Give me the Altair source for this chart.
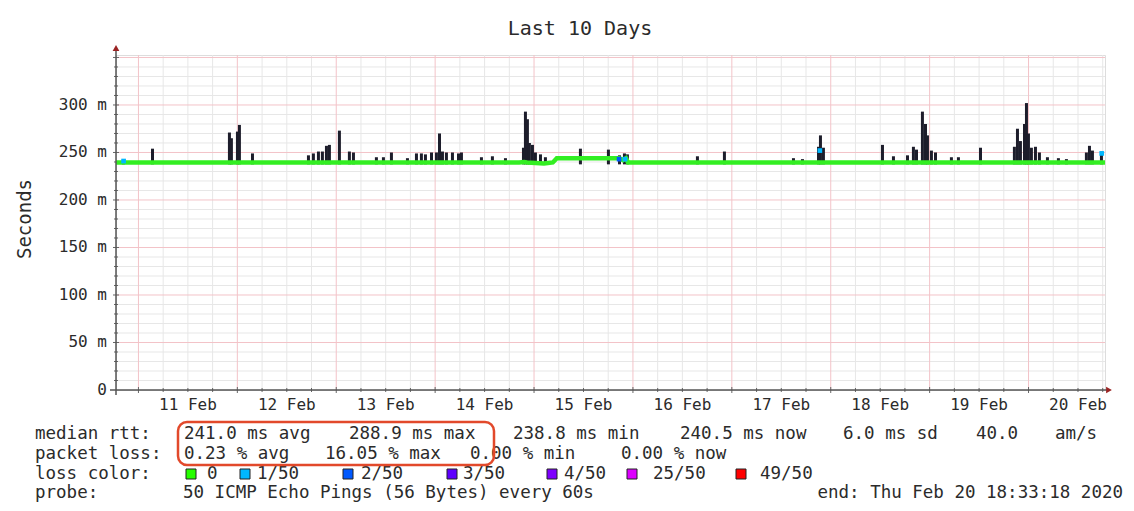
import altair as alt
import pandas as pd

# ---------------- data ----------------
# time axis in "day of February" (fractional), window = Feb 10 18:33:18 .. Feb 20 18:33:18
start_day = 10.7731
end_day = 20.7731

# median rtt line (ms)
median_day = [10.773, 14.85, 14.90, 14.93, 15.10, 15.14, 15.19, 15.23, 15.86, 15.90, 15.93, 15.95, 20.773]
median_ms = [239.5, 239.5, 240.0, 239.5, 238.5, 239.0, 239.5, 244.0, 244.0, 242.0, 244.0, 239.5, 239.5]

# smoke spikes: time and top of the ping spread (ms)
spike_day = [10.848, 11.142, 11.920, 11.940, 12.001, 12.021, 12.153, 12.719, 12.769, 12.820,
             12.860, 12.901, 12.931, 13.032, 13.133, 13.174, 13.406, 13.477, 13.558, 13.720,
             13.811, 13.861, 13.902, 13.963, 14.013, 14.044, 14.074, 14.114, 14.175, 14.236,
             14.266, 14.468, 14.579, 14.711, 14.893, 14.913, 14.933, 14.953, 14.984, 15.014,
             15.065, 15.115, 15.469, 15.752, 15.864, 15.914, 15.944, 16.652, 16.925, 17.623,
             17.714, 17.876, 17.896, 17.926, 18.523, 18.634, 18.776, 18.836, 18.867, 18.927,
             18.958, 18.978, 19.018, 19.059, 19.220, 19.291, 19.514, 19.857, 19.888, 19.918,
             19.959, 19.979, 19.999, 20.029, 20.070, 20.110, 20.191, 20.302, 20.383, 20.585,
             20.616, 20.646, 20.737]
spike_top = [243, 254, 271, 265, 272, 279, 249, 247, 249, 251,
             251, 257, 258, 273, 251, 250, 245, 245, 250, 244,
             249, 249, 248, 250, 250, 270, 251, 250, 250, 249,
             250, 245, 246, 244, 255, 293, 285, 260, 258, 250,
             248, 245, 254, 253, 247, 249, 248, 246, 251, 244,
             243, 256, 268, 255, 258, 246, 247, 256, 253, 293,
             280, 268, 252, 250, 245, 245, 255, 256, 275, 262,
             280, 302, 270, 255, 256, 250, 245, 244, 243, 250,
             257, 252, 251]

# points where the median line shows packet loss
loss_day = [10.85, 15.86, 15.92, 17.89, 20.74]
loss_ms = [241, 243, 243, 252, 249]
loss_lvl = ["1/50", "2/50", "1/50", "1/50", "1/50"]

# y axis ticks and x axis day labels (labels sit at noon of each day)
y_ticks = [0, 50, 100, 150, 200, 250, 300]
y_labels = ["0\u00a0\u00a0", "50 m", "100 m", "150 m", "200 m", "250 m", "300 m"]
x_label_day = [11.5, 12.5, 13.5, 14.5, 15.5, 16.5, 17.5, 18.5, 19.5, 20.5]
x_labels = ["11 Feb", "12 Feb", "13 Feb", "14 Feb", "15 Feb", "16 Feb", "17 Feb", "18 Feb", "19 Feb", "20 Feb"]

# legend texts
median_stats = ["241.0 ms avg", "288.9 ms max", "238.8 ms min", "240.5 ms now", "6.0 ms sd", "40.0", "am/s"]
loss_stats = ["0.23 % avg", "16.05 % max", "0.00 % min", "0.00 % now"]
loss_labels = ["0", "1/50", "2/50", "3/50", "4/50", "25/50", "49/50"]
loss_colors = ["#26ff00", "#00b8ff", "#0059ff", "#5e00ff", "#7e00ff", "#dd00ff", "#ff0000"]
probe_text = "50 ICMP Echo Pings (56 Bytes) every 60s"
end_text = "end: Thu Feb 20 18:33:18 2020"
title_text = "Last 10 Days"
y_title = "Seconds"

# ---------------- chart ----------------
MONO = "DejaVu Sans Mono"
TXT = "#2b2b2b"
W, H = 989, 335
OX, OY = 116, 55  # page position of plot origin

xs = alt.Scale(domain=[start_day, end_day], nice=False, zero=False)
ys = alt.Scale(domain=[0, 352.6], nice=False, zero=True)

minor_v = [d / 4 for d in range(43, 84) if d % 4 != 0 and start_day <= d / 4 <= end_day]
major_v = [d for d in range(11, 21)]
minor_h = [v for v in range(10, 360, 10) if v % 50 != 0]
major_h = [v for v in range(50, 360, 50)]


def vgrid(vals, color):
    return alt.Chart(pd.DataFrame({"d": vals})).mark_rule(color=color, strokeWidth=1).encode(
        x=alt.X("d:Q", scale=xs, axis=None))


def hgrid(vals, color):
    return alt.Chart(pd.DataFrame({"v": vals})).mark_rule(color=color, strokeWidth=1).encode(
        y=alt.Y("v:Q", scale=ys, axis=None))


grid = vgrid(minor_v, "#e7e7e7") + hgrid(minor_h, "#e7e7e7") + vgrid(major_v, "#f3c3c8") + hgrid(major_h, "#f3c3c8")


def xticks(vals, half):
    return alt.Chart(pd.DataFrame({"d": vals})).mark_rule(color="#666666", strokeWidth=1).encode(
        x=alt.X("d:Q", scale=xs, axis=None), y=alt.value(H - half), y2=alt.value(H + half))


def yticks(vals, half):
    return alt.Chart(pd.DataFrame({"v": vals})).mark_rule(color="#666666", strokeWidth=1).encode(
        y=alt.Y("v:Q", scale=ys, axis=None), x=alt.value(-half), x2=alt.value(half))


ticks = xticks(minor_v, 2) + xticks(major_v, 3) + yticks(minor_h, 2) + yticks(major_h, 3)

smoke_df = pd.DataFrame({"d": spike_day, "top": spike_top, "base": [237.5] * len(spike_day)})
smoke = alt.Chart(smoke_df).mark_rule(color="#1d1d2b", strokeWidth=3).encode(
    x=alt.X("d:Q", scale=xs, axis=None),
    y=alt.Y("base:Q", scale=ys, axis=None),
    y2="top:Q",
)

med_df = pd.DataFrame({"d": median_day, "ms": median_ms})
median = alt.Chart(med_df).mark_line(color="#33ee22", strokeWidth=4.5).encode(
    x=alt.X("d:Q", scale=xs, axis=None),
    y=alt.Y("ms:Q", scale=ys, axis=None),
)

loss_df = pd.DataFrame({"d": loss_day, "ms": loss_ms, "lvl": loss_lvl})
loss = alt.Chart(loss_df).mark_square(size=22, opacity=1).encode(
    x=alt.X("d:Q", scale=xs, axis=None),
    y=alt.Y("ms:Q", scale=ys, axis=None),
    color=alt.Color("lvl:N", scale=alt.Scale(domain=loss_labels, range=loss_colors), legend=None),
)

xlab = alt.Chart(pd.DataFrame({"d": x_label_day, "t": x_labels})).mark_text(
    font=MONO, fontSize=16, color=TXT, align="center", baseline="middle").encode(
    x=alt.X("d:Q", scale=xs, axis=None), y=alt.value(405 - OY), text="t:N")

ylab = alt.Chart(pd.DataFrame({"v": y_ticks, "t": y_labels})).mark_text(
    font=MONO, fontSize=16, color=TXT, align="right", baseline="middle").encode(
    y=alt.Y("v:Q", scale=ys, axis=None), x=alt.value(107 - OX), text="t:N")

one = pd.DataFrame({"k": [0]})

axis_lines = (
    alt.Chart(one).mark_rule(color="#555555", strokeWidth=1.5).encode(
        x=alt.value(0), y=alt.value(-6), y2=alt.value(H + 5))
    + alt.Chart(one).mark_rule(color="#555555", strokeWidth=1.5).encode(
        x=alt.value(-6), x2=alt.value(W + 2), y=alt.value(H))
    + alt.Chart(one).mark_point(shape="triangle-up", filled=True, size=45, color="#9a2323", opacity=1).encode(
        x=alt.value(0), y=alt.value(-7))
    + alt.Chart(one).mark_point(shape="triangle-right", filled=True, size=45, color="#9a2323", opacity=1).encode(
        x=alt.value(W + 4), y=alt.value(H))
)


def txt(s, px, py, size=17.5, align="left", angle=0):
    return alt.Chart(one).mark_text(text=s, font=MONO, fontSize=size, color=TXT, align=align,
                                    baseline="middle", angle=angle).encode(
        x=alt.value(px - OX), y=alt.value(py - OY))


L1, L2, L3, L4 = 434, 454, 474, 493
texts = [
    txt(title_text, 580, 29, size=20, align="center"),
    txt(y_title, 25, 219, size=19, align="center", angle=270),
    txt("median rtt:", 35, L1),
    txt("packet loss:", 35, L2),
    txt("loss color:", 35, L3),
    txt("probe:", 35, L4),
    txt(probe_text, 183, L4),
    txt(end_text, 1123, L4, align="right"),
]
for s, px in zip(median_stats, [184, 349, 513, 680, 843, 976, 1055]):
    texts.append(txt(s, px, L1))
for s, px in zip(loss_stats, [184, 325, 470, 621]):
    texts.append(txt(s, px, L2))

box_x = [186, 240, 343, 447, 547, 627, 736]
lbl_x = [207, 257, 361, 463, 564, 653, 760]
boxes = []
for lab, col, bx, lx in zip(loss_labels, loss_colors, box_x, lbl_x):
    boxes.append(alt.Chart(one).mark_rect(fill=col, stroke="#222222", strokeWidth=1).encode(
        x=alt.value(bx - OX), x2=alt.value(bx + 10 - OX), y=alt.value(L3 - 5 - OY), y2=alt.value(L3 + 5 - OY)))
    texts.append(txt(lab, lx, L3))

highlight = alt.Chart(one).mark_rect(fillOpacity=0, fill="white", stroke="#e2492b", strokeWidth=2.5,
                                     cornerRadius=9).encode(
    x=alt.value(178 - OX), x2=alt.value(494 - OX), y=alt.value(422 - OY), y2=alt.value(465 - OY))

chart = alt.layer(grid, ticks, smoke, median, loss, axis_lines, xlab, ylab, *boxes, *texts, highlight).properties(
    width=W, height=H,
    autosize=alt.AutoSizeParams(type="none"),
    padding={"left": OX - 8, "top": OY - 8, "right": 21, "bottom": 112},
).configure_view(stroke=None).configure(background="white")

chart.save("out.html", embed_options={"renderer": "svg", "actions": False})
